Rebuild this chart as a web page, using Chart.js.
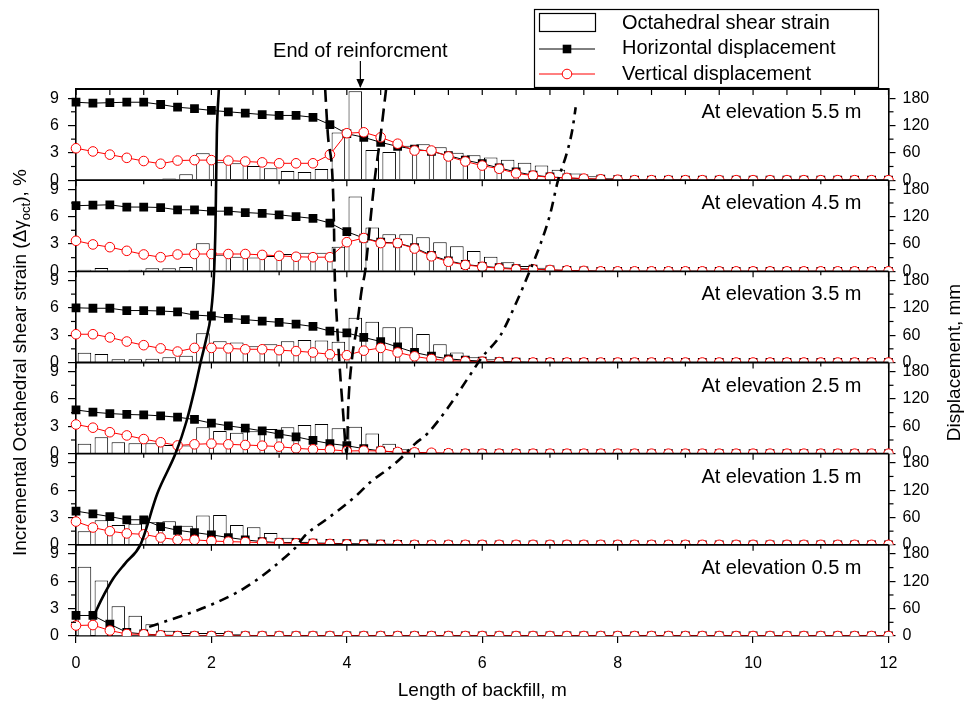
<!DOCTYPE html>
<html>
<head>
<meta charset="utf-8">
<title>Incremental octahedral shear strain and displacement</title>
<script src="https://cdn.jsdelivr.net/npm/chart.js@4.4.1/dist/chart.umd.min.js"></script>
<style>
  html, body { margin: 0; padding: 0; background: #fff; }
  #wrap { width: 975px; height: 703px; }
</style>
</head>
<body>
<div id="wrap"><canvas id="strainChart" width="975" height="703"></canvas></div>
<script>
// --- data (panels listed from top to bottom) ---
const elevations = ['5.5', '4.5', '3.5', '2.5', '1.5', '0.5'];

// displacement readings every 0.25 m
const pointX = [0, 0.25, 0.5, 0.75, 1, 1.25, 1.5, 1.75, 2, 2.25, 2.5, 2.75, 3, 3.25, 3.5, 3.75,
    4, 4.25, 4.5, 4.75, 5, 5.25, 5.5, 5.75, 6, 6.25, 6.5, 6.75, 7, 7.25, 7.5, 7.75,
    8, 8.25, 8.5, 8.75, 9, 9.25, 9.5, 9.75, 10, 10.25, 10.5, 10.75, 11, 11.25, 11.5, 11.75, 12];

// strain bars sit between the readings
const barX = [0.125, 0.375, 0.625, 0.875, 1.125, 1.375, 1.625, 1.875, 2.125, 2.375, 2.625, 2.875,
    3.125, 3.375, 3.625, 3.875, 4.125, 4.375, 4.625, 4.875, 5.125, 5.375, 5.625, 5.875,
    6.125, 6.375, 6.625, 6.875, 7.125, 7.375, 7.625, 7.875, 8.125, 8.375, 8.625, 8.875,
    9.125, 9.375, 9.625, 9.875, 10.125, 10.375, 10.625, 10.875, 11.125, 11.375, 11.625, 11.875];

// octahedral shear strain, %
const strain55 = [0, 0, 0, 0, 0.05, 0.17, 0.64, 2.94, 1.96, 1.85, 1.56, 1.3, 1.0, 0.9, 1.23, 5.24,
    9.74, 3.3, 3.1, 3.78, 3.93, 3.6, 3.02, 2.73, 2.5, 2.25, 1.92, 1.6, 1.15, 0.72, 0.42, 0.24,
    0.12, 0.08, 0.05, 0, 0, 0, 0, 0, 0, 0, 0, 0, 0, 0, 0, 0];
const strain45 = [0.18, 0.37, 0.1, 0.18, 0.33, 0.33, 0.48, 3.07, 1.83, 1.6, 1.53, 1.68, 1.9, 2.05, 2.05, 2.7,
    8.22, 4.82, 4.06, 4.06, 3.73, 3.18, 2.74, 2.23, 1.6, 1.0, 0.58, 0.4, 0.15, 0.1, 0.05, 0,
    0, 0, 0, 0, 0, 0, 0, 0, 0, 0, 0, 0, 0, 0, 0, 0];
const strain35 = [1.08, 0.93, 0.35, 0.35, 0.42, 0.57, 0.75, 3.2, 2.32, 2.2, 1.77, 2.0, 2.32, 2.47, 2.4, 2.28,
    4.9, 4.48, 3.86, 3.86, 3.13, 2.0, 1.1, 0.57, 0.35, 0.15, 0.1, 0, 0, 0, 0, 0,
    0, 0, 0, 0, 0, 0, 0, 0, 0, 0, 0, 0, 0, 0, 0, 0];
const strain25 = [1.1, 1.8, 1.24, 1.13, 1.13, 0.95, 0.9, 2.9, 2.5, 2.3, 2.45, 2.7, 2.9, 3.14, 3.25, 2.78,
    2.96, 2.2, 1.1, 0.48, 0.15, 0.1, 0, 0, 0, 0, 0, 0, 0, 0, 0, 0,
    0, 0, 0, 0, 0, 0, 0, 0, 0, 0, 0, 0, 0, 0, 0, 0];
const strain15 = [1.48, 2.69, 2.17, 2.32, 2.47, 2.58, 2.1, 3.23, 3.27, 2.17, 1.92, 1.3, 0.79, 0.35, 0.24, 0.2,
    0.15, 0.1, 0, 0, 0, 0, 0, 0, 0, 0, 0, 0, 0, 0, 0, 0,
    0, 0, 0, 0, 0, 0, 0, 0, 0, 0, 0, 0, 0, 0, 0, 0];
const strain05 = [7.6, 6.1, 3.25, 2.23, 1.28, 0.58, 0.33, 0.33, 0.33, 0.22, 0.1, 0, 0, 0, 0, 0,
    0, 0, 0, 0, 0, 0, 0, 0, 0, 0, 0, 0, 0, 0, 0, 0,
    0, 0, 0, 0, 0, 0, 0, 0, 0, 0, 0, 0, 0, 0, 0, 0];

// horizontal displacement, mm
const horiz55 = [171, 169, 170, 171, 171, 166, 160, 157, 153, 150, 147, 144, 142, 142, 138, 122,
    102, 94, 83, 74, 68, 63, 54, 44, 36, 27, 18, 11, 7, 5, 3, 2,
    1, 0, 0, 0, 0, 0, 0, 0, 0, 0, 0, 0, 0, 0, 0, 0, 0];
const horiz45 = [144, 145, 146, 141, 141, 140, 135, 135, 132, 132, 129, 127, 124, 120, 116, 106,
    87, 73, 64, 62, 52, 35, 23, 15, 11, 8, 6, 5, 3, 2, 1, 0,
    0, 0, 0, 0, 0, 0, 0, 0, 0, 0, 0, 0, 0, 0, 0, 0, 0];
const horiz35 = [120, 119, 119, 114, 114, 113, 111, 104, 102, 97, 94, 91, 88, 84, 79, 69,
    65, 55, 46, 34, 22, 14, 8, 5, 3, 2, 1, 0, 0, 0, 0, 0,
    0, 0, 0, 0, 0, 0, 0, 0, 0, 0, 0, 0, 0, 0, 0, 0, 0];
const horiz25 = [96, 91, 88, 86, 85, 83, 80, 75, 67, 61, 56, 50, 43, 37, 29, 22,
    17.5, 11, 6, 3, 1.5, 0, 0, 0, 0, 0, 0, 0, 0, 0, 0, 0,
    0, 0, 0, 0, 0, 0, 0, 0, 0, 0, 0, 0, 0, 0, 0, 0, 0];
const horiz15 = [74, 68, 62, 55, 55, 40, 32, 27, 22, 16, 11, 7, 5, 5, 4, 3.3,
    2.5, 2, 1.5, 1, 0, 0, 0, 0, 0, 0, 0, 0, 0, 0, 0, 0,
    0, 0, 0, 0, 0, 0, 0, 0, 0, 0, 0, 0, 0, 0, 0, 0, 0];
const horiz05 = [45, 45, 26, 8, 4.4, 2, 1, 0, 0, 0, 0, 0, 0, 0, 0, 0,
    0, 0, 0, 0, 0, 0, 0, 0, 0, 0, 0, 0, 0, 0, 0, 0,
    0, 0, 0, 0, 0, 0, 0, 0, 0, 0, 0, 0, 0, 0, 0, 0, 0];

// vertical displacement, mm
const vert55 = [70, 63, 56, 49, 42, 36, 43, 44, 44, 43, 41, 39, 37, 37, 37, 56,
    103, 105, 94, 80, 65, 65, 52, 41, 32, 25, 15, 10, 6, 5, 3.5, 2,
    1, 0, 0, 0, 0, 0, 0, 0, 0, 0, 0, 0, 0, 0, 0, 0, 0];
const vert45 = [67, 59, 53, 45, 37, 31, 37, 38, 38, 38, 38, 36, 34, 32, 31, 31,
    64, 73, 62, 62, 50, 33, 21, 14, 10, 6.6, 4.5, 4.4, 3, 2, 1, 0,
    0, 0, 0, 0, 0, 0, 0, 0, 0, 0, 0, 0, 0, 0, 0, 0, 0];
const vert35 = [62, 62, 55, 46, 38, 31, 24, 32, 32, 31, 29, 29, 27, 25, 22, 18,
    16, 26, 32, 22, 13.5, 7.7, 4, 2.6, 1.8, 1, 0, 0, 0, 0, 0, 0,
    0, 0, 0, 0, 0, 0, 0, 0, 0, 0, 0, 0, 0, 0, 0, 0, 0];
const vert25 = [64, 57, 47, 40, 32, 25, 18, 20.5, 22, 20.5, 19, 17.5, 15.4, 11.7, 9.5, 8.8,
    5.8, 6.6, 5.8, 3.7, 2.9, 2, 1, 0, 0, 0, 0, 0, 0, 0, 0, 0,
    0, 0, 0, 0, 0, 0, 0, 0, 0, 0, 0, 0, 0, 0, 0, 0, 0];
const vert15 = [51, 38, 30, 25, 23, 16, 11, 11, 8.4, 7, 6.2, 4.8, 4, 3.3, 2.6, 2,
    1, 0, 0, 0, 0, 0, 0, 0, 0, 0, 0, 0, 0, 0, 0, 0,
    0, 0, 0, 0, 0, 0, 0, 0, 0, 0, 0, 0, 0, 0, 0, 0, 0];
const vert05 = [23, 24, 12, 4.4, 3.7, 1.5, 0, 0, 0, 0, 0, 0, 0, 0, 0, 0,
    0, 0, 0, 0, 0, 0, 0, 0, 0, 0, 0, 0, 0, 0, 0, 0,
    0, 0, 0, 0, 0, 0, 0, 0, 0, 0, 0, 0, 0, 0, 0, 0, 0];

const strain = [strain55, strain45, strain35, strain25, strain15, strain05];
const horiz = [horiz55, horiz45, horiz35, horiz25, horiz15, horiz05];
const vert = [vert55, vert45, vert35, vert25, vert15, vert05];

// boundary curves drawn across all panels: [length m, height in panels from the bottom]
const solidCurve = [[0.27, 0.23], [0.37, 0.39], [0.55, 0.63], [0.73, 0.8], [0.95, 1.0],
    [1.2, 1.56], [1.48, 2.02], [1.63, 2.35], [1.75, 2.7], [1.84, 3.0], [1.92, 3.25],
    [1.99, 3.52], [2.04, 4.0], [2.06, 4.5], [2.07, 5.0], [2.08, 5.5], [2.11, 6.0]];
const dashedCurve = [[3.68, 6.0], [3.72, 5.5], [3.79, 5.0], [3.81, 4.5], [3.82, 4.0], [3.85, 3.5],
    [3.89, 3.0], [3.94, 2.5], [4.0, 2.0], [4.02, 2.5], [4.07, 3.0], [4.15, 3.4], [4.22, 3.8],
    [4.27, 4.0], [4.34, 4.5], [4.41, 5.0], [4.5, 5.5], [4.58, 6.0]];
const dashDotCurve = [[1.08, 0.1], [1.4, 0.18], [1.75, 0.27], [2.05, 0.36], [2.36, 0.47], [2.6, 0.58],
    [2.84, 0.71], [3.05, 0.84], [3.23, 0.96], [3.38, 1.1], [3.7, 1.28], [3.98, 1.44], [4.17, 1.56],
    [4.35, 1.69], [4.57, 1.81], [4.77, 1.93], [5.01, 2.11], [5.19, 2.22], [5.49, 2.5], [5.79, 2.83],
    [6.0, 3.06], [6.27, 3.3], [6.51, 3.67], [6.7, 4.0], [6.86, 4.3], [7.0, 4.62], [7.12, 5.0],
    [7.25, 5.3], [7.33, 5.55], [7.38, 5.8]];

// ticks
const xTicks = [0, 2, 4, 6, 8, 10, 12];
const innerXTicks = [0, 1, 2, 3, 4, 5, 6, 7, 8, 9, 10, 11, 12];
const topXTicks = [0, 0.5, 1, 1.5, 2, 2.5, 3, 3.5, 4, 4.5, 5, 5.5, 6, 6.5, 7, 7.5, 8, 8.5, 9, 9.5,
    10, 10.5, 11, 11.5, 12];
const leftTicks = [0, 3, 6, 9];
const leftMinor = [1.5, 4.5, 7.5];
const rightTicks = [0, 60, 120, 180];
const rightMinor = [30, 90, 150];
const reinforcementEnd = 4.2;

const FONT = '"Liberation Sans", Arial, sans-serif';
Chart.defaults.font.family = FONT;
Chart.defaults.color = '#000';

// --- scales: one left and one right axis per panel, stacked ---
const scales = {
    x: {
        type: 'linear', position: 'bottom', min: 0, max: 12, offset: false,
        afterBuildTicks: s => { s.ticks = xTicks.map(v => ({ value: v })); },
        afterFit: s => { s.height = 67; },
        grid: { offset: false, drawOnChartArea: false, tickLength: 7, color: '#000', lineWidth: 1.2 },
        border: { color: '#000', width: 1.6 },
        ticks: { font: { size: 16 }, color: '#000', padding: 11, maxRotation: 0, autoSkip: false }
    },
    yC: { type: 'linear', position: 'left', display: false, min: 0, max: 6 }
};
elevations.forEach((e, p) => {
    scales['yL' + p] = {
        type: 'linear', position: 'left', stack: 'left', weight: 6 - p, min: 0, max: 10,
        afterBuildTicks: s => { s.ticks = leftTicks.map(v => ({ value: v })); },
        afterFit: s => { s.width = 76; },
        grid: { drawOnChartArea: false, tickLength: 8, color: '#000', lineWidth: 1.2 },
        border: { color: '#000', width: 1.6 },
        ticks: { autoSkip: false, font: { size: 16 }, color: '#000', padding: 9, callback: v => String(v) }
    };
    scales['yR' + p] = {
        type: 'linear', position: 'right', stack: 'right', weight: p, min: 0, max: 200,
        afterBuildTicks: s => { s.ticks = rightTicks.map(v => ({ value: v })); },
        afterFit: s => { s.width = 86.5; },
        grid: { drawOnChartArea: false, tickLength: 7, color: '#000', lineWidth: 1.2 },
        border: { color: '#000', width: 1.6 },
        ticks: { autoSkip: false, font: { size: 16 }, color: '#000', padding: 7, callback: v => String(v) }
    };
});

// --- datasets ---
const datasets = [];
elevations.forEach((e, p) => {
    datasets.push({
        type: 'bar', label: 'Octahedral shear strain', panel: p, yAxisID: 'yL' + p,
        data: barX.map((x, i) => ({ x: x, y: strain[p][i] })),
        backgroundColor: '#fff', borderColor: '#000', borderWidth: 1,
        grouped: false, barPercentage: 0.8, categoryPercentage: 1, order: 5
    });
    datasets.push({
        type: 'line', label: 'Horizontal displacement', panel: p, yAxisID: 'yR' + p,
        data: pointX.map((x, i) => ({ x: x, y: horiz[p][i] })),
        borderColor: '#000', borderWidth: 1, pointStyle: 'rect', pointRadius: 6.2,
        pointBackgroundColor: '#000', pointBorderColor: '#000', pointBorderWidth: 0,
        clip: false, order: 4
    });
    datasets.push({
        type: 'line', label: 'Vertical displacement', panel: p, yAxisID: 'yR' + p,
        data: pointX.map((x, i) => ({ x: x, y: vert[p][i] })),
        borderColor: '#ff0000', borderWidth: 1, pointStyle: 'circle', pointRadius: 4.8,
        pointBackgroundColor: '#fff', pointBorderColor: '#ff0000', pointBorderWidth: 1,
        clip: false, order: 3
    });
});
const curveStyle = { type: 'line', yAxisID: 'yC', borderColor: '#000', borderWidth: 2.6, pointRadius: 0,
    cubicInterpolationMode: 'monotone', clip: false, order: 1 };
datasets.push(Object.assign({}, curveStyle, { label: 'solid', data: solidCurve.map(c => ({ x: c[0], y: c[1] })) }));
datasets.push(Object.assign({}, curveStyle, { label: 'dashed', borderDash: [13, 7], data: dashedCurve.map(c => ({ x: c[0], y: c[1] })) }));
datasets.push(Object.assign({}, curveStyle, { label: 'dashdot', borderDash: [10, 6, 3, 6], data: dashDotCurve.map(c => ({ x: c[0], y: c[1] })) }));

// --- plugins ---
// keep each panel's marks inside its own band
const panelClip = {
    id: 'panelClip',
    beforeDatasetDraw(chart, args) {
        const ds = chart.data.datasets[args.index];
        if (ds.panel === undefined) return;
        const s = chart.scales['yL' + ds.panel];
        const a = chart.chartArea;
        chart.ctx.save();
        chart.ctx.beginPath();
        chart.ctx.rect(a.left - 12, s.top, a.right - a.left + 24, s.bottom - s.top);
        chart.ctx.clip();
    },
    afterDatasetDraw(chart, args) {
        if (chart.data.datasets[args.index].panel !== undefined) chart.ctx.restore();
    }
};

function line(ctx, x1, y1, x2, y2) {
    ctx.beginPath();
    ctx.moveTo(x1, y1);
    ctx.lineTo(x2, y2);
    ctx.stroke();
}

// panel separators and the small ticks
const frameTicks = {
    id: 'frameTicks',
    afterDatasetsDraw(chart) {
        const { ctx, chartArea: a, scales: sc } = chart;
        ctx.save();
        ctx.strokeStyle = '#000';
        ctx.lineWidth = 1.8;
        elevations.forEach((e, p) => line(ctx, a.left, sc['yL' + p].top, a.right, sc['yL' + p].top));
        ctx.lineWidth = 1.2;
        topXTicks.forEach(v => {
            const x = sc.x.getPixelForValue(v);
            line(ctx, x, a.top, x, a.top + 6);
        });
        elevations.forEach((e, p) => {
            if (p === 0) return;
            const y = sc['yL' + p].top;
            innerXTicks.forEach(v => {
                const x = sc.x.getPixelForValue(v);
                line(ctx, x, y, x, y + (v % 2 === 0 ? 6 : 4));
            });
        });
        elevations.forEach((e, p) => {
            leftMinor.forEach(v => {
                const y = sc['yL' + p].getPixelForValue(v);
                line(ctx, a.left - 5, y, a.left, y);
            });
            rightMinor.forEach(v => {
                const y = sc['yR' + p].getPixelForValue(v);
                line(ctx, a.right, y, a.right + 5, y);
            });
        });
        ctx.restore();
    }
};

// titles, panel labels, annotation and legend
const annotate = {
    id: 'annotate',
    afterDraw(chart) {
        const { ctx, chartArea: a, scales: sc } = chart;
        ctx.save();
        ctx.fillStyle = '#000';
        ctx.strokeStyle = '#000';

        ctx.font = '20px ' + FONT;
        ctx.textAlign = 'right';
        ctx.textBaseline = 'alphabetic';
        elevations.forEach((e, p) => {
            ctx.fillText('At elevation ' + e + ' m', a.right - 27, sc['yL' + p].top + 29);
        });

        // end of reinforcement marker
        const ax = sc.x.getPixelForValue(reinforcementEnd);
        ctx.textAlign = 'center';
        ctx.fillText('End of reinforcment', ax, 57);
        ctx.lineWidth = 1.2;
        line(ctx, ax, 61, ax, a.top - 2);
        ctx.beginPath();
        ctx.moveTo(ax - 4, a.top - 10);
        ctx.lineTo(ax + 4, a.top - 10);
        ctx.lineTo(ax, a.top - 1);
        ctx.closePath();
        ctx.fill();

        // x title
        ctx.font = '19px ' + FONT;
        ctx.textBaseline = 'middle';
        ctx.fillText('Length of backfill, m', (a.left + a.right) / 2, 691);

        // right title
        ctx.save();
        ctx.translate(955, (a.top + a.bottom) / 2);
        ctx.rotate(-Math.PI / 2);
        ctx.fillText('Displacement, mm', 0, 0);
        ctx.restore();

        // left title with subscript
        ctx.save();
        ctx.translate(21, (a.top + a.bottom) / 2);
        ctx.rotate(-Math.PI / 2);
        const t1 = 'Incremental Octahedral shear strain (\u0394\u03b3';
        const t2 = 'oct';
        const t3 = '), %';
        ctx.font = '19px ' + FONT;
        const w1 = ctx.measureText(t1).width;
        const w3 = ctx.measureText(t3).width;
        ctx.font = '13px ' + FONT;
        const w2 = ctx.measureText(t2).width;
        let x0 = -(w1 + w2 + w3) / 2;
        ctx.textAlign = 'left';
        ctx.font = '19px ' + FONT;
        ctx.fillText(t1, x0, 0);
        ctx.font = '13px ' + FONT;
        ctx.fillText(t2, x0 + w1, 5);
        ctx.font = '19px ' + FONT;
        ctx.fillText(t3, x0 + w1 + w2, 0);
        ctx.restore();

        // legend
        ctx.lineWidth = 1.2;
        ctx.strokeRect(534.5, 9.5, 344, 78);
        const sx = 539, sw = 56, cx = sx + sw / 2;
        ctx.fillStyle = '#fff';
        ctx.fillRect(sx + 0.5, 13.5, sw, 18);
        ctx.strokeRect(sx + 0.5, 13.5, sw, 18);
        ctx.lineWidth = 1;
        line(ctx, sx, 49, sx + sw, 49);
        ctx.fillStyle = '#000';
        ctx.fillRect(cx - 4.3, 49 - 4.3, 8.6, 8.6);
        ctx.strokeStyle = '#ff0000';
        line(ctx, sx, 74, sx + sw, 74);
        ctx.fillStyle = '#fff';
        ctx.beginPath();
        ctx.arc(cx, 74, 4.8, 0, Math.PI * 2);
        ctx.fill();
        ctx.stroke();
        ctx.fillStyle = '#000';
        ctx.font = '20px ' + FONT;
        ctx.textAlign = 'left';
        ctx.textBaseline = 'middle';
        ctx.fillText('Octahedral shear strain', 622, 23);
        ctx.fillText('Horizontal displacement', 622, 48.5);
        ctx.fillText('Vertical displacement', 622, 74);
        ctx.restore();
    }
};

// --- Chart.js ---
const ctx = document.getElementById('strainChart').getContext('2d');
const strainChart = new Chart(ctx, {
    type: 'bar',
    data: { datasets: datasets },
    options: {
        responsive: false,
        animation: false,
        events: [],
        layout: { padding: { top: 89, left: 0, right: 0, bottom: 0 } },
        plugins: { legend: { display: false }, tooltip: { enabled: false } },
        scales: scales
    },
    plugins: [panelClip, frameTicks, annotate]
});
</script>
</body>
</html>
